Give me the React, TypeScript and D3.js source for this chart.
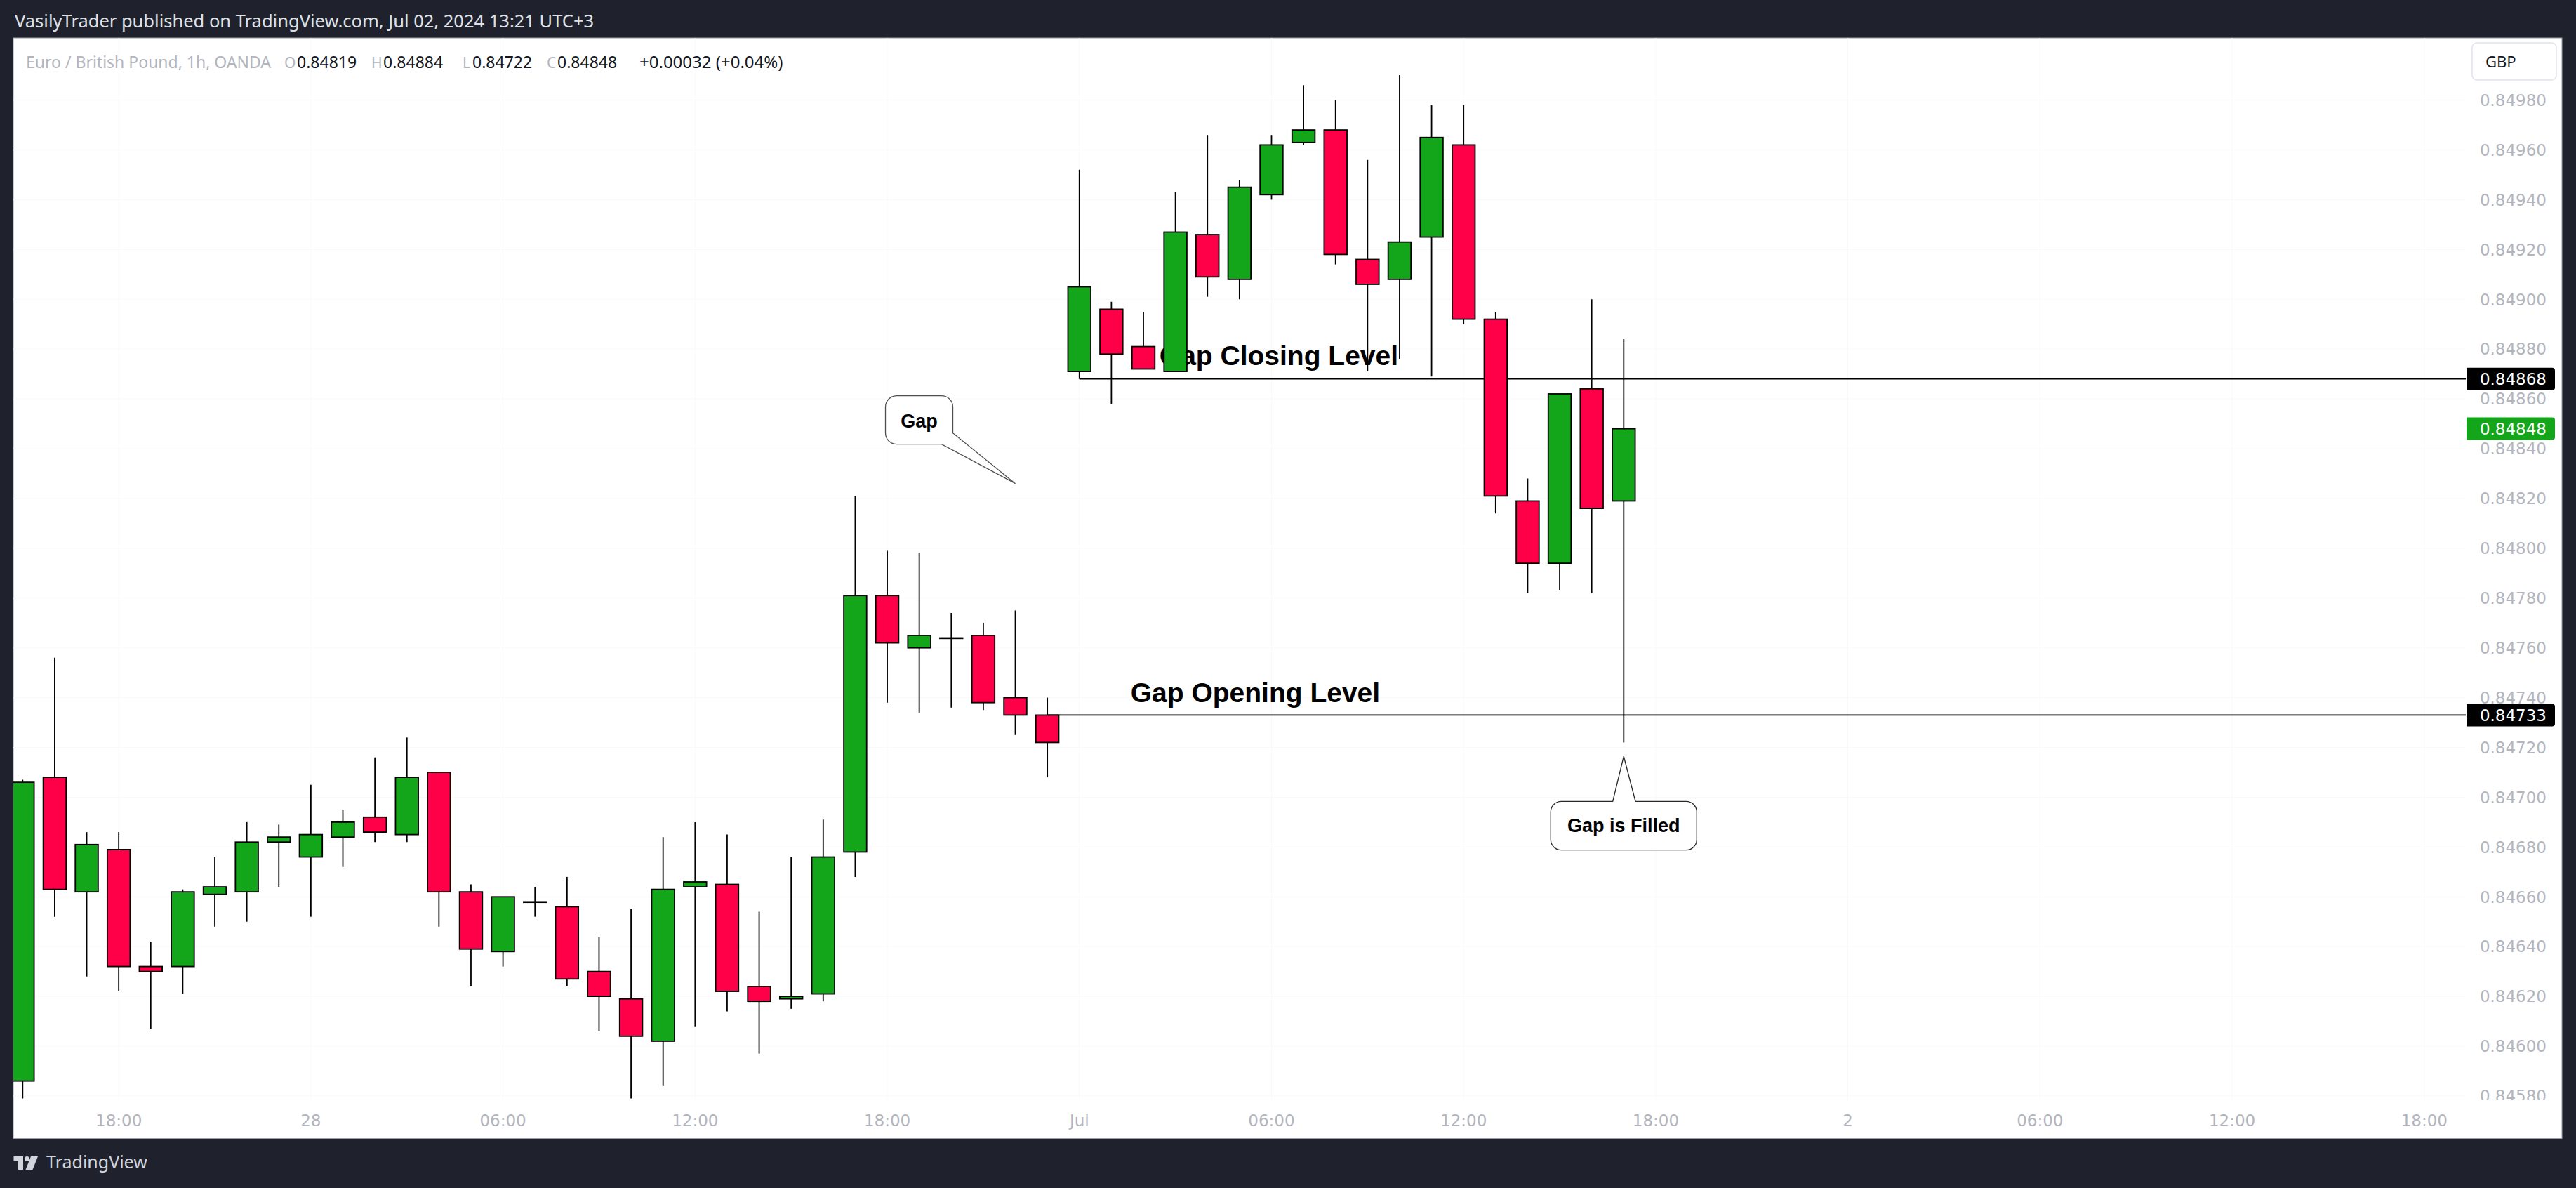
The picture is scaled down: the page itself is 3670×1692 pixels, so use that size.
import React from "react";
import * as d3 from "d3";

// EUR/GBP 1h, OANDA — bars from Jun 27 15:00 to Jul 01 17:00 (UTC+3)
const opens = [
  0.84586, 0.84708, 0.84662, 0.84679, 0.84632, 0.84632, 0.84661, 0.84662, 0.84682,
  0.84676, 0.84684, 0.84692, 0.84685, 0.8471, 0.84662, 0.84638, 0.84658, 0.84656,
  0.8463, 0.84619, 0.84602, 0.84664, 0.84665, 0.84624, 0.84619, 0.84621, 0.84678,
  0.84781, 0.8476, 0.84764, 0.84765, 0.8474, 0.84733,
  0.84871, 0.84896, 0.84881, 0.84871, 0.84926, 0.84908, 0.84942, 0.84963, 0.84968,
  0.84916, 0.84908, 0.84925, 0.84962, 0.84892, 0.84819, 0.84794, 0.84864, 0.84819,
];
const highs = [
  0.84707, 0.84756, 0.84686, 0.84686, 0.84642, 0.84663, 0.84676, 0.8469, 0.84689,
  0.84705, 0.84695, 0.84716, 0.84724, 0.8471, 0.84665, 0.8466, 0.84664, 0.84668,
  0.84644, 0.84655, 0.84684, 0.8469, 0.84685, 0.84654, 0.84676, 0.84691, 0.84821,
  0.84799, 0.84798, 0.84774, 0.8477, 0.84775, 0.8474,
  0.84952, 0.84899, 0.84895, 0.84943, 0.84966, 0.84948, 0.84966, 0.84986, 0.8498,
  0.84956, 0.8499, 0.84978, 0.84978, 0.84895, 0.84828, 0.84862, 0.849, 0.84884,
];
const lows = [
  0.84579, 0.84652, 0.84628, 0.84622, 0.84607, 0.84621, 0.84648, 0.8465, 0.84664,
  0.84652, 0.84672, 0.84682, 0.84682, 0.84648, 0.84624, 0.84632, 0.84652, 0.84624,
  0.84606, 0.84579, 0.84584, 0.84608, 0.84614, 0.84597, 0.84615, 0.84618, 0.84668,
  0.84738, 0.84734, 0.84736, 0.84735, 0.84725, 0.84708,
  0.84868, 0.84858, 0.84872, 0.84871, 0.84901, 0.849, 0.8494, 0.84962, 0.84914,
  0.84871, 0.84876, 0.84869, 0.8489, 0.84814, 0.84782, 0.84783, 0.84782, 0.84722,
];
const closes = [
  0.84706, 0.84663, 0.84681, 0.84632, 0.8463, 0.84662, 0.84664, 0.84682, 0.84684,
  0.84685, 0.8469, 0.84686, 0.84708, 0.84662, 0.84639, 0.8466, 0.84658, 0.84627,
  0.8462, 0.84604, 0.84663, 0.84666, 0.84622, 0.84618, 0.8462, 0.84676, 0.84781,
  0.84762, 0.84765, 0.84764, 0.84738, 0.84733, 0.84722,
  0.84905, 0.84878, 0.84872, 0.84927, 0.84909, 0.84945, 0.84962, 0.84968, 0.84918,
  0.84906, 0.84923, 0.84965, 0.84892, 0.84821, 0.84794, 0.84862, 0.84816, 0.84848,
];

const timeTickBars = [3, 9, 15, 21, 27, 33, 39, 45, 51, 57, 63, 69, 75];
const timeTickLabels = ["18:00", "28", "06:00", "12:00", "18:00", "Jul", "06:00", "12:00", "18:00", "2", "06:00", "12:00", "18:00"];
const priceTicks = [
  0.8498, 0.8496, 0.8494, 0.8492, 0.849, 0.8488, 0.8486, 0.8484, 0.8482, 0.848, 0.8478,
  0.8476, 0.8474, 0.8472, 0.847, 0.8468, 0.8466, 0.8464, 0.8462, 0.846, 0.8458,
];

const gapOpenLevel = 0.84733;
const gapOpenBar = 32;
const gapCloseLevel = 0.84868;
const gapCloseBar = 33;

const GREEN = "#13a51a";
const RED = "#ff0048";
const AXIS = "#b2b5be";
const UI = "'Noto Sans', 'Liberation Sans', sans-serif";
const NUM = "'DejaVu Sans', sans-serif";
const BOLD = "'Liberation Sans', Arial, sans-serif";

export default function App() {
  const W = 3670;
  const H = 1692;
  const plot = { left: 19, right: 3513, top: 54, bottom: 1567 };
  const x = d3.scaleLinear().domain([0, 75]).range([32.3, 3453.8]);
  const y = d3.scaleLinear().domain([0.8458, 0.8498]).range([1560.95, 142.55]);
  const fmt = d3.format(".5f");
  const bodyW = 32.6;

  const n = closes.length;
  const lastO = opens[n - 1], lastH = highs[n - 1], lastL = lows[n - 1], lastC = closes[n - 1];
  const chg = lastC - closes[n - 2];
  const pct = (chg / closes[n - 2]) * 100;
  const chgText = `${chg >= 0 ? "+" : ""}${fmt(chg)} (${pct >= 0 ? "+" : ""}${pct.toFixed(2)}%)`;

  // "Gap" callout, tip anchored in data space
  const gapTip = { x: x(31), y: y(0.84826) };
  const g1 = { x1: gapTip.x - 185, y1: gapTip.y - 125, x2: gapTip.x - 89, y2: gapTip.y - 56 };
  const r1 = 16;
  const gapPath =
    `M${g1.x1 + r1},${g1.y1} H${g1.x2 - r1} A${r1},${r1} 0 0 1 ${g1.x2},${g1.y1 + r1} ` +
    `V${gapTip.y - 72} L${gapTip.x},${gapTip.y} L${gapTip.x - 105},${g1.y2} ` +
    `H${g1.x1 + r1} A${r1},${r1} 0 0 1 ${g1.x1},${g1.y2 - r1} V${g1.y1 + r1} ` +
    `A${r1},${r1} 0 0 1 ${g1.x1 + r1},${g1.y1} Z`;

  // "Gap is Filled" callout
  const fillTip = { x: x(50), y: y(0.847164) };
  const f = { x1: fillTip.x - 104, y1: fillTip.y + 64, x2: fillTip.x + 104, y2: fillTip.y + 133.4 };
  const r2 = 15;
  const fillPath =
    `M${f.x1 + r2},${f.y1} H${fillTip.x - 15.6} L${fillTip.x},${fillTip.y} L${fillTip.x + 16.7},${f.y1} ` +
    `H${f.x2 - r2} A${r2},${r2} 0 0 1 ${f.x2},${f.y1 + r2} V${f.y2 - r2} ` +
    `A${r2},${r2} 0 0 1 ${f.x2 - r2},${f.y2} H${f.x1 + r2} A${r2},${r2} 0 0 1 ${f.x1},${f.y2 - r2} ` +
    `V${f.y1 + r2} A${r2},${r2} 0 0 1 ${f.x1 + r2},${f.y1} Z`;

  const priceLabel = (p: number, fill: string, key: string) => {
    const cy = y(p);
    const bx = 3514, bw = 126, bh = 32, rr = 4;
    const path =
      `M${bx},${cy - bh / 2} H${bx + bw - rr} A${rr},${rr} 0 0 1 ${bx + bw},${cy - bh / 2 + rr} ` +
      `V${cy + bh / 2 - rr} A${rr},${rr} 0 0 1 ${bx + bw - rr},${cy + bh / 2} H${bx} Z`;
    return (
      <g key={key}>
        <path d={path} fill={fill} />
        <text x={3628} y={cy} dy="0.36em" textAnchor="end" fontFamily={NUM} fontSize={23} fill="#ffffff">
          {fmt(p)}
        </text>
      </g>
    );
  };

  return (
    <svg
      width={W}
      height={H}
      viewBox={`0 0 ${W} ${H}`}
      style={{ position: "absolute", left: 0, top: 0, display: "block" }}
    >
      <defs>
        <clipPath id="plotClip">
          <rect x={plot.left} y={plot.top} width={plot.right - plot.left} height={plot.bottom - plot.top} />
        </clipPath>
        <clipPath id="axisClip">
          <rect x={plot.right} y={plot.top} width={3649 - plot.right} height={plot.bottom - plot.top} />
        </clipPath>
      </defs>
      <rect x={0} y={0} width={W} height={H} fill="#1f222d" />
      <text x={21} y={39} fontFamily={UI} fontSize={25.5} fill="#dfe1e6">
        VasilyTrader published on TradingView.com, Jul 02, 2024 13:21 UTC+3
      </text>

      {/* chart panel */}
      <rect x={19} y={54} width={3631} height={1567.5} fill="#ffffff" stroke="#9a9da6" strokeWidth={1} />

      {/* grid */}
      <g clipPath="url(#plotClip)">
        {priceTicks.map((p) => (
          <line key={"hg" + p} x1={plot.left} x2={plot.right} y1={y(p)} y2={y(p)} stroke="#f9f9fa" strokeWidth={1} />
        ))}
        {timeTickBars.map((b) => (
          <line key={"vg" + b} x1={x(b)} x2={x(b)} y1={plot.top} y2={plot.bottom} stroke="#f9f9fa" strokeWidth={1} />
        ))}
      </g>

      {/* legend */}
      <text y={97} fontFamily={UI} fontSize={23}>
        <tspan x={37} fill={AXIS}>Euro / British Pound, 1h, OANDA</tspan>
        <tspan x={405} fill={AXIS} fontSize={21}>O</tspan>
        <tspan x={423} fill="#131722">{fmt(lastO)}</tspan>
        <tspan x={529} fill={AXIS} fontSize={21}>H</tspan>
        <tspan x={546} fill="#131722">{fmt(lastH)}</tspan>
        <tspan x={659} fill={AXIS} fontSize={21}>L</tspan>
        <tspan x={673} fill="#131722">{fmt(lastL)}</tspan>
        <tspan x={779} fill={AXIS} fontSize={21}>C</tspan>
        <tspan x={794} fill="#131722">{fmt(lastC)}</tspan>
        <tspan x={911} fill="#131722" fontSize={24}>{chgText}</tspan>
      </text>

      <g clipPath="url(#plotClip)">
        {/* level texts (behind candles) */}
        <text x={x(35.5)} y={y(0.848736)} fontFamily={BOLD} fontWeight="bold" fontSize={39} fill="#000000">
          Gap Closing Level
        </text>
        <text x={x(34.6)} y={y(0.847382)} fontFamily={BOLD} fontWeight="bold" fontSize={39} fill="#000000">
          Gap Opening Level
        </text>

        {/* horizontal levels */}
        <line x1={x(gapCloseBar)} x2={plot.right} y1={y(gapCloseLevel)} y2={y(gapCloseLevel)} stroke="#000" strokeWidth={1.6} />
        <line x1={x(gapOpenBar)} x2={plot.right} y1={y(gapOpenLevel)} y2={y(gapOpenLevel)} stroke="#000" strokeWidth={1.6} />

        {/* candles */}
        {closes.map((c, i) => {
          const o = opens[i];
          const cx = x(i);
          const top = y(Math.max(o, c));
          const bot = y(Math.min(o, c));
          const up = c >= o;
          return (
            <g key={"c" + i}>
              <line x1={cx} x2={cx} y1={y(highs[i])} y2={y(lows[i])} stroke="#000" strokeWidth={1.8} />
              <rect
                x={cx - bodyW / 2}
                y={top}
                width={bodyW}
                height={Math.max(bot - top, 0.8)}
                fill={up ? GREEN : RED}
                stroke="#000"
                strokeWidth={1.8}
              />
            </g>
          );
        })}

        {/* callouts */}
        <path d={gapPath} fill="#ffffff" stroke="#505050" strokeWidth={1.3} />
        <text x={(g1.x1 + g1.x2) / 2} y={gapTip.y - 80} textAnchor="middle" fontFamily={BOLD} fontWeight="bold" fontSize={27} fill="#000">
          Gap
        </text>
        <path d={fillPath} fill="#ffffff" stroke="#2a2a2a" strokeWidth={1.3} />
        <text x={fillTip.x} y={fillTip.y + 108} textAnchor="middle" fontFamily={BOLD} fontWeight="bold" fontSize={27} fill="#000">
          Gap is Filled
        </text>
      </g>

      {/* price axis */}
      <g clipPath="url(#axisClip)">
        {priceTicks.map((p) => (
          <text key={"pt" + p} x={3628} y={y(p)} dy="0.36em" textAnchor="end" fontFamily={NUM} fontSize={23} fill={AXIS}>
            {fmt(p)}
          </text>
        ))}
        {priceLabel(gapCloseLevel, "#000000", "lc")}
        {priceLabel(lastC, GREEN, "lp")}
        {priceLabel(gapOpenLevel, "#000000", "lo")}
      </g>

      {/* currency button */}
      <rect x={3522} y={61} width={120} height={53} rx={7} fill="#ffffff" stroke="#e0e3eb" strokeWidth={1.5} />
      <text x={3541} y={96} fontFamily={UI} fontSize={22} fill="#131722">GBP</text>

      {/* time axis */}
      {timeTickBars.map((b, i) => (
        <text key={"tt" + b} x={x(b)} y={1604} textAnchor="middle" fontFamily={NUM} fontSize={23} fill={AXIS}>
          {timeTickLabels[i]}
        </text>
      ))}

      {/* footer logo */}
      <g fill="#d1d4dc">
        <rect x={19.5} y={1647} width={13.5} height={6.5} />
        <rect x={26} y={1647} width={7} height={19} />
        <circle cx={38.5} cy={1650.5} r={3.6} />
        <path d="M44,1647 H54 L46.5,1666 H36.5 Z" />
      </g>
      <text x={66} y={1664} fontFamily={UI} fontSize={25} fill="#d1d4dc">TradingView</text>
    </svg>
  );
}
